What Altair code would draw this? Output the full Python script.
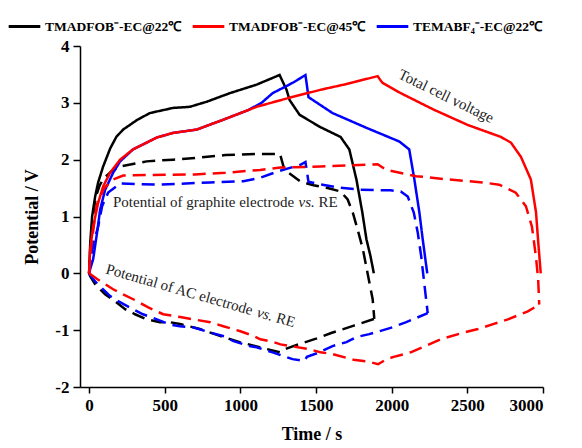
import altair as alt
import pandas as pd

samples = ["TMADFOB⁻-EC@22℃", "TMADFOB⁻-EC@45℃", "TEMABF₄⁻-EC@22℃"]
colors = ["#000000", "#ff0000", "#0000ff"]

# --- TMADFOB-EC @22C (black)
k_total_t = [0, 8, 20, 40, 60, 93, 140, 180, 225, 318, 402, 554, 666, 778, 930, 1107, 1259, 1305, 1325, 1391, 1523, 1662, 1720, 1767, 1806, 1833, 1860, 1882]
k_total_v = [0, 0.55, 1.0, 1.35, 1.6, 1.88, 2.2, 2.4, 2.53, 2.7, 2.82, 2.91, 2.93, 3.02, 3.17, 3.32, 3.49, 3.23, 3.05, 2.79, 2.58, 2.4, 2.18, 1.65, 1.07, 0.6, 0.3, 0]
k_gr_t = [0, 10, 25, 45, 70, 100, 150, 205, 380, 555, 700, 900, 1100, 1262, 1285, 1318, 1400, 1483, 1576, 1662, 1709, 1745, 1775, 1810, 1848, 1874, 1885]
k_gr_v = [0, 0.5, 1.0, 1.35, 1.55, 1.68, 1.8, 1.88, 1.97, 2.0, 2.03, 2.08, 2.1, 2.1, 1.88, 1.77, 1.61, 1.55, 1.5, 1.44, 1.3, 1.05, 0.77, 0.42, -0.1, -0.45, -0.8]
k_ac_t = [0, 7, 40, 106, 172, 238, 304, 382, 468, 534, 600, 732, 864, 996, 1127, 1262, 1300, 1350, 1500, 1600, 1750, 1885]
k_ac_v = [0, -0.05, -0.19, -0.37, -0.49, -0.63, -0.72, -0.81, -0.86, -0.86, -0.89, -0.98, -1.1, -1.21, -1.3, -1.39, -1.33, -1.28, -1.15, -1.05, -0.92, -0.8]

# --- TMADFOB-EC @45C (red)
r_total_t = [0, 7, 27, 60, 93, 139, 205, 290, 448, 554, 712, 884, 1107, 1325, 1530, 1700, 1907, 1925, 1940, 2060, 2278, 2503, 2722, 2788, 2854, 2920, 2954, 2967, 2985]
r_total_v = [0, 0.42, 0.82, 1.24, 1.53, 1.77, 2.0, 2.18, 2.39, 2.47, 2.53, 2.7, 2.93, 3.09, 3.23, 3.33, 3.47, 3.4, 3.35, 3.17, 2.88, 2.61, 2.4, 2.3, 2.05, 1.65, 1.07, 0.6, 0]
r_gr_t = [0, 15, 50, 100, 159, 225, 400, 700, 900, 1130, 1265, 1530, 1840, 1907, 1963, 2161, 2380, 2600, 2710, 2820, 2887, 2927, 2953, 2968, 2975]
r_gr_v = [0, 0.5, 1.2, 1.5, 1.65, 1.72, 1.73, 1.74, 1.77, 1.82, 1.86, 1.88, 1.91, 1.92, 1.82, 1.71, 1.65, 1.6, 1.56, 1.42, 1.18, 0.82, 0.3, -0.1, -0.55]
r_ac_t = [0, 53, 159, 225, 318, 391, 490, 603, 689, 801, 887, 1000, 1086, 1132, 1219, 1265, 1331, 1450, 1530, 1609, 1748, 1841, 1910, 1960, 2013, 2126, 2325, 2477, 2570, 2675, 2768, 2900, 2975]
r_ac_v = [0, -0.1, -0.28, -0.37, -0.49, -0.6, -0.72, -0.77, -0.81, -0.86, -0.93, -1.02, -1.1, -1.16, -1.21, -1.25, -1.28, -1.33, -1.39, -1.42, -1.52, -1.55, -1.6, -1.52, -1.47, -1.39, -1.16, -1.04, -0.98, -0.89, -0.81, -0.67, -0.55]

# --- TEMABF4-EC @22C (blue)
b_total_t = [0, 10, 27, 53, 73, 106, 159, 205, 290, 448, 554, 712, 884, 1050, 1140, 1213, 1279, 1351, 1400, 1430, 1440, 1450, 1609, 1833, 2050, 2116, 2150, 2183, 2205, 2235]
b_total_v = [0, 0.1, 0.25, 0.72, 1.12, 1.47, 1.77, 1.97, 2.18, 2.39, 2.47, 2.53, 2.7, 2.87, 3.0, 3.17, 3.26, 3.36, 3.44, 3.49, 3.3, 3.1, 2.82, 2.56, 2.32, 2.18, 1.65, 1.07, 0.6, 0]
b_gr_t = [0, 15, 30, 60, 86, 126, 205, 470, 800, 1020, 1130, 1245, 1397, 1430, 1450, 1543, 1642, 1795, 1993, 2060, 2106, 2146, 2172, 2195, 2212, 2238]
b_gr_v = [0, 0.3, 0.55, 0.82, 1.18, 1.42, 1.58, 1.56, 1.6, 1.62, 1.68, 1.79, 1.91, 1.96, 1.61, 1.56, 1.51, 1.47, 1.46, 1.44, 1.35, 1.07, 0.72, 0.3, -0.1, -0.7]
b_ac_t = [0, 27, 60, 139, 192, 290, 356, 448, 534, 600, 686, 798, 910, 950, 1060, 1107, 1213, 1279, 1345, 1424, 1440, 1523, 1609, 1701, 1767, 1852, 1918, 2004, 2096, 2238]
b_ac_v = [0, -0.1, -0.2, -0.4, -0.49, -0.63, -0.72, -0.81, -0.9, -0.93, -0.95, -1.04, -1.12, -1.19, -1.28, -1.3, -1.39, -1.45, -1.51, -1.54, -1.47, -1.39, -1.28, -1.21, -1.12, -1.07, -1.02, -0.95, -0.86, -0.7]

# annotations (text pieces; 'vs.' is italic)
ann_text = ["Total cell voltage",
            "Potential of graphite electrode", "vs.", "RE",
            "Potential of AC electrode", "vs.", "RE"]
ann_t = [2360, 158, 158, 158, 738, 738, 738]
ann_v = [3.12, 1.25, 1.25, 1.25, -0.39, -0.39, -0.39]
ann_angle = [26, 0, 0, 0, 16, 16, 16]
ann_align = ["center", "left", "left", "left", "left", "left", "left"]
ann_dx = [0, 0, 185.5, 205.6, -98.2, 58.8, 78.9]
ann_style = ["normal", "normal", "italic", "normal", "normal", "italic", "normal"]

series = [
    (samples[0], "total", "solid", k_total_t, k_total_v),
    (samples[0], "graphite", "dashed", k_gr_t, k_gr_v),
    (samples[0], "ac", "dashed", k_ac_t, k_ac_v),
    (samples[2], "total", "solid", b_total_t, b_total_v),
    (samples[2], "graphite", "dashed", b_gr_t, b_gr_v),
    (samples[2], "ac", "dashed", b_ac_t, b_ac_v),
    (samples[1], "total", "solid", r_total_t, r_total_v),
    (samples[1], "graphite", "dashed", r_gr_t, r_gr_v),
    (samples[1], "ac", "dashed", r_ac_t, r_ac_v),
]
rows = []
for s, kind, dash, ts, vs in series:
    for i, (t, v) in enumerate(zip(ts, vs)):
        rows.append({"sample": s, "kind": kind, "dash": dash, "t": t, "v": v, "i": i})
df = pd.DataFrame(rows)

FONT = "Liberation Serif"

x_ticks = list(range(0, 3001, 250))
y_ticks = [-2 + 0.5 * k for k in range(13)]

lines = alt.Chart(df).mark_line(strokeWidth=2.5).encode(
    x=alt.X("t:Q", scale=alt.Scale(domain=[-60, 3000], nice=False, zero=False),
            axis=alt.Axis(values=x_ticks, title="Time / s",
                          labelExpr="datum.value % 500 === 0 ? '' + datum.value : ''",
                          tickSize={"condition": {"test": "datum.value % 500 === 0", "value": 6}, "value": 4},
                          labelPadding=4, titlePadding=12)),
    y=alt.Y("v:Q", scale=alt.Scale(domain=[-2, 4], nice=False, zero=False),
            axis=alt.Axis(values=y_ticks, title="Potential / V",
                          labelExpr="datum.value % 1 === 0 ? '' + datum.value : ''",
                          tickSize={"condition": {"test": "datum.value % 1 === 0", "value": 7}, "value": 5},
                          labelPadding=4, titlePadding=13)),
    color=alt.Color("sample:N", scale=alt.Scale(domain=samples, range=colors),
                    legend=alt.Legend(orient="none", direction="horizontal", title=None,
                                      legendX=-73, legendY=-37,
                                      symbolType="stroke", symbolSize=1000, symbolStrokeWidth=3,
                                      labelFont=FONT, labelFontSize=13.5, labelFontWeight="bold",
                                      labelColor="#000", columnPadding=4, labelOffset=3,
                                      labelLimit=300)),
    strokeDash=alt.StrokeDash("dash:N", scale=alt.Scale(domain=["solid", "dashed"], range=[[1, 0], [13, 7]]), legend=None),
    detail="kind:N",
    order="i:Q",
)

layers = [lines]
for k in range(len(ann_text)):
    adf = pd.DataFrame({"t": [ann_t[k]], "v": [ann_v[k]], "label": [ann_text[k]]})
    layers.append(
        alt.Chart(adf).mark_text(angle=ann_angle[k], align=ann_align[k], baseline="middle",
                                 dx=ann_dx[k], fontStyle=ann_style[k],
                                 font=FONT, fontSize=15, color="#222").encode(
            x="t:Q", y="v:Q", text="label:N")
    )

chart = alt.layer(*layers).properties(
    width=463, height=341,
    autosize=alt.AutoSizeParams(type="none"),
    padding={"left": 72, "top": 38, "right": 30, "bottom": 58},
).configure_view(stroke=None).configure_axis(
    grid=False, domainColor="#000", domainWidth=1.5, tickColor="#000", tickWidth=1.5,
    labelFont=FONT, labelFontSize=17, labelFontWeight="bold", labelColor="#000",
    titleFont=FONT, titleFontSize=18, titleFontWeight="bold", titleColor="#000",
)

chart.save("out.html", embed_options={"renderer": "svg", "actions": False})
